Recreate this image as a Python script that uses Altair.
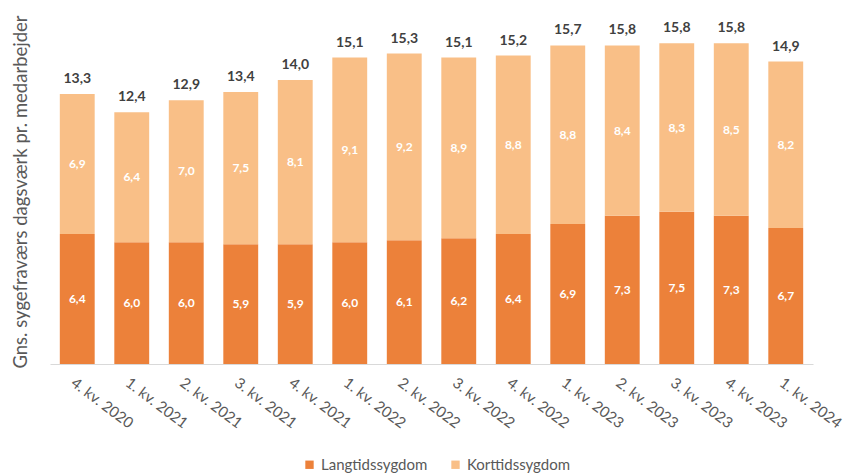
import altair as alt
import pandas as pd

categories = ["4. kv. 2020", "1. kv. 2021", "2. kv. 2021", "3. kv. 2021", "4. kv. 2021",
              "1. kv. 2022", "2. kv. 2022", "3. kv. 2022", "4. kv. 2022",
              "1. kv. 2023", "2. kv. 2023", "3. kv. 2023", "4. kv. 2023", "1. kv. 2024"]
langtid = [6.4, 6.0, 6.0, 5.9, 5.9, 6.0, 6.1, 6.2, 6.4, 6.9, 7.3, 7.5, 7.3, 6.7]
korttid = [6.9, 6.4, 7.0, 7.5, 8.1, 9.1, 9.2, 8.9, 8.8, 8.8, 8.4, 8.3, 8.5, 8.2]
totals = [13.3, 12.4, 12.9, 13.4, 14.0, 15.1, 15.3, 15.1, 15.2, 15.7, 15.8, 15.8, 15.8, 14.9]
series = ["Langtidssygdom", "Korttidssygdom"]
colors = ["#EC813A", "#F9BF87"]

def fmt(v):
    return f"{v:.1f}".replace(".", ",")

rows = []
for i, c in enumerate(categories):
    rows.append({"cat": c, "serie": series[0], "ord": 0, "value": langtid[i], "label": fmt(langtid[i])})
    rows.append({"cat": c, "serie": series[1], "ord": 1, "value": korttid[i], "label": fmt(korttid[i])})
df = pd.DataFrame(rows)

tot_df = pd.DataFrame({"cat": categories,
                       "top": [l + k for l, k in zip(langtid, korttid)],
                       "label": [fmt(t) for t in totals]})

FONT = "Lato"

x = alt.X("cat:N", sort=categories, title=None,
          scale=alt.Scale(paddingInner=0.36, paddingOuter=0.18),
          axis=alt.Axis(labelAngle=37, labelAlign="left", labelBaseline="top",
                        labelPadding=11, labelFontSize=15, labelColor="#595959",
                        labelFont=FONT, ticks=False, domainColor="#D9D9D9",
                        domainWidth=1, grid=False))

yscale = alt.Scale(domain=[0, 17])

bars = alt.Chart(df).mark_bar().encode(
    x=x,
    y=alt.Y("value:Q", stack="zero", scale=yscale,
            title="Gns. sygefraværs dagsværk pr. medarbejder",
            axis=alt.Axis(labels=False, ticks=False, domain=False, grid=False,
                          titleFontSize=18.5, titleFont=FONT, titleColor="#595959",
                          titleFontWeight="normal", titlePadding=20)),
    color=alt.Color("serie:N", scale=alt.Scale(domain=series, range=colors),
                    legend=alt.Legend(title=None, orient="none", legendX=252, legendY=438,
                                      direction="horizontal", symbolType="square",
                                      symbolSize=70, labelFontSize=15, labelFont=FONT,
                                      labelColor="#595959", columnPadding=20,
                                      symbolStrokeWidth=0, labelOffset=4)),
    order=alt.Order("ord:Q", sort="ascending"),
)

seg_text = alt.Chart(df).transform_stack(
    stack="value", groupby=["cat"], as_=["y0", "y1"],
    sort=[alt.SortField("ord", order="ascending")]
).transform_calculate(
    mid="(datum.y0 + datum.y1) / 2"
).mark_text(color="white", fontWeight="bold", fontSize=12, font=FONT).encode(
    x=alt.X("cat:N", sort=categories),
    y=alt.Y("mid:Q", scale=yscale),
    text="label:N",
)

tot_text = alt.Chart(tot_df).mark_text(color="#404040", fontWeight="bold", fontSize=14,
                                       font=FONT, baseline="bottom", dy=-8).encode(
    x=alt.X("cat:N", sort=categories),
    y=alt.Y("top:Q", scale=yscale),
    text="label:N",
)

chart = alt.layer(bars, seg_text, tot_text).properties(
    width=763, height=345,
    background="white",
    padding={"left": 50, "top": 19, "right": 42, "bottom": 110},
    autosize=alt.AutoSizeParams(type="none"),
).configure_view(strokeWidth=0)

chart.save("out.html", embed_options={"renderer": "svg", "actions": False})
